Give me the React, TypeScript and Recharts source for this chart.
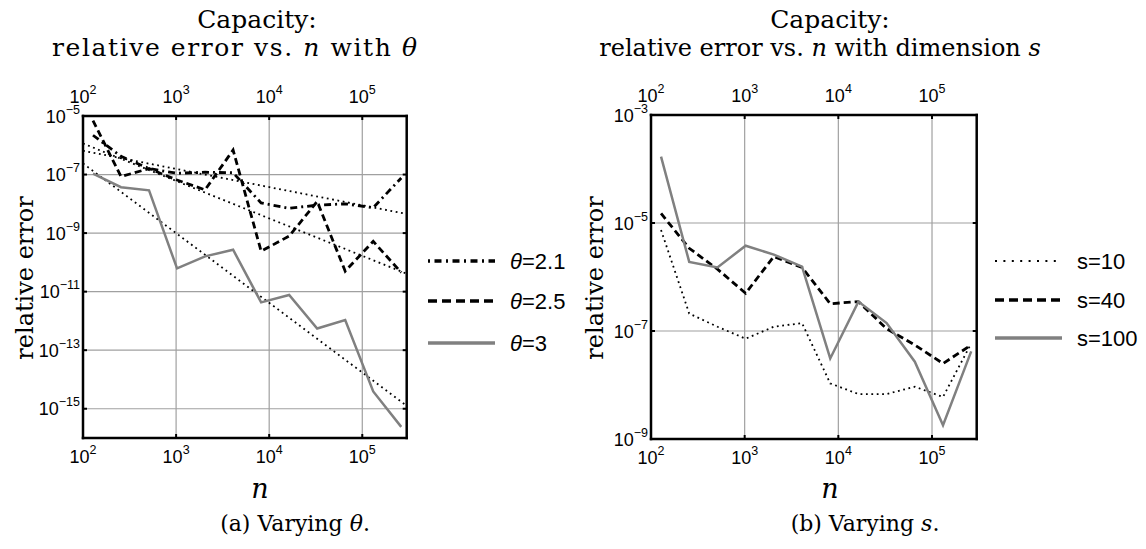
import React from 'react';
import { LineChart, Line, XAxis, YAxis, CartesianGrid } from 'recharts';

// sample sizes n = 2^7 .. 2^18
const nPoints = [128, 256, 512, 1024, 2048, 4096, 8192, 16384, 32768, 65536, 131072, 262144];
// reference (dotted) lines run across the whole x range
const nRefEnds = [100, 300000];
const xTicks = [100, 1000, 10000, 100000];

// (a) varying theta
const theta21 = [2.2e-6, 4.2e-7, 1.6e-7, 1.1e-7, 1.2e-7, 1.15e-7, 1.07e-8, 7e-9, 9e-9, 1e-8, 7.4e-9, 7.6e-8];
const theta25 = [7e-6, 8.5e-8, 1.6e-7, 6.5e-8, 3e-8, 6.9e-7, 2.4e-10, 7.9e-10, 1.2e-8, 5e-11, 5.2e-10, 4.5e-11];
const theta3 = [1.07e-7, 3.7e-8, 2.9e-8, 6.2e-11, 1.6e-10, 2.7e-10, 4.3e-12, 7.7e-12, 5.5e-13, 1.07e-12, 3.9e-15, 2.4e-16];
const ref21 = [6.5e-7, 4.5e-9];
const ref25 = [1.15e-6, 4.1e-11];
const ref3 = [2.4e-7, 1.26e-15];
const yTicksA = [1e-15, 1e-13, 1e-11, 1e-9, 1e-7, 1e-5];

// (b) varying dimension s
const s10 = [7.4e-6, 2.1e-7, 1.2e-7, 7.2e-8, 1.2e-7, 1.4e-7, 1.07e-8, 6.8e-9, 6.8e-9, 9.3e-9, 6e-9, 5.9e-8];
const s40 = [1.5e-5, 3.4e-6, 1.4e-6, 5e-7, 2.4e-6, 1.5e-6, 3.2e-7, 3.5e-7, 1.1e-7, 5.5e-8, 2.5e-8, 5.5e-8];
const s100 = [1.7e-4, 1.9e-6, 1.5e-6, 3.8e-6, 2.6e-6, 1.55e-6, 3.1e-8, 3.5e-7, 1.4e-7, 2.7e-8, 1.8e-9, 4.2e-8];
const yTicksB = [1e-9, 1e-7, 1e-5, 1e-3];

const SERIF = '"DejaVu Serif", "Liberation Serif", serif';
const SANS = '"Liberation Sans", Arial, sans-serif';
const GRAY = '#808080';

type Style = { stroke: string; width: number; dash?: string };
const DASHDOT: Style = { stroke: '#000', width: 2.8, dash: '7 4 2 4' };
const DASHED: Style = { stroke: '#000', width: 2.8, dash: '7 4' };
const SOLID: Style = { stroke: GRAY, width: 2.5 };
const DOTTED: Style = { stroke: '#000', width: 1.8, dash: '1.8 3.6' };

type Series = { key: string; label: string; sym: string; values: number[]; style: Style };

const seriesA: Series[] = [
  { key: 't21', label: '=2.1', sym: 'θ', values: theta21, style: DASHDOT },
  { key: 't25', label: '=2.5', sym: 'θ', values: theta25, style: DASHED },
  { key: 't3', label: '=3', sym: 'θ', values: theta3, style: SOLID },
];
const refsA = [
  { key: 'r21', values: ref21 },
  { key: 'r25', values: ref25 },
  { key: 'r3', values: ref3 },
];
const seriesB: Series[] = [
  { key: 's10', label: 's=10', sym: '', values: s10, style: DOTTED },
  { key: 's40', label: 's=40', sym: '', values: s40, style: DASHED },
  { key: 's100', label: 's=100', sym: '', values: s100, style: SOLID },
];

const TICK = 4;
const exp = (v: number) => {
  const e = Math.round(Math.log10(v));
  return e < 0 ? `\u2212${-e}` : `${e}`;
};

function Pow({ x, y, anchor, value }: { x: number; y: number; anchor: 'start' | 'middle' | 'end'; value: number }) {
  return (
    <text x={x} y={y} textAnchor={anchor} fontSize={18} fontFamily={SANS} fill="#000">
      <tspan>10</tspan>
      <tspan dy={-9} fontSize={12.5}>{exp(value)}</tspan>
    </text>
  );
}

const LeftTick = ({ x, y, payload }: any) => (
  <g>
    <line x1={x} x2={x + TICK} y1={y} y2={y} stroke="#000" strokeWidth={2} />
    <Pow x={x - 3} y={y + 6.5} anchor="end" value={payload.value} />
  </g>
);
const RightTick = ({ x, y }: any) => (
  <line x1={x - TICK} x2={x} y1={y} y2={y} stroke="#000" strokeWidth={2} />
);
const BottomTick = ({ x, y, payload }: any) => (
  <g>
    <line x1={x} x2={x} y1={y} y2={y - TICK} stroke="#000" strokeWidth={2} />
    <Pow x={x} y={y + 25} anchor="middle" value={payload.value} />
  </g>
);
const TopTick = ({ x, y, payload }: any) => (
  <g>
    <line x1={x} x2={x} y1={y} y2={y + TICK} stroke="#000" strokeWidth={2} />
    <Pow x={x} y={y - 13} anchor="middle" value={payload.value} />
  </g>
);

interface PanelProps {
  left: number;
  margin: { top: number; right: number; bottom: number; left: number };
  yDomain: [number, number];
  yTicks: number[];
  series: Series[];
  refs?: { key: string; values: number[] }[];
}

function LogPanel({ left, margin, yDomain, yTicks, series, refs = [] }: PanelProps) {
  const rows = nPoints.map((n, i) => {
    const row: Record<string, number> = { n };
    series.forEach(s => { row[s.key] = s.values[i]; });
    return row;
  });
  const refRows = nRefEnds.map((n, i) => {
    const row: Record<string, number> = { n };
    refs.forEach(r => { row[r.key] = r.values[i]; });
    return row;
  });
  const frame = { stroke: '#000', strokeWidth: 2.5, strokeLinecap: 'square' as const };
  const axisCommon = { tickSize: 0, tickMargin: 0, tickLine: false, axisLine: frame, interval: 0 as const };

  return (
    <div style={{ position: 'absolute', left, top: 0 }}>
      <LineChart width={573} height={549} data={rows} margin={margin}>
        <CartesianGrid xAxisId="b" yAxisId="l" stroke="#a0a0a0" strokeWidth={1.2} />
        <XAxis xAxisId="b" dataKey="n" type="number" scale="log" domain={[100, 300000]} allowDataOverflow
          ticks={xTicks} height={10} orientation="bottom" tick={<BottomTick />} {...axisCommon} />
        <XAxis xAxisId="t" dataKey="n" type="number" scale="log" domain={[100, 300000]} allowDataOverflow
          ticks={xTicks} height={10} orientation="top" tick={<TopTick />} {...axisCommon} />
        <YAxis yAxisId="l" type="number" scale="log" domain={yDomain} allowDataOverflow
          ticks={yTicks} width={10} orientation="left" tick={<LeftTick />} {...axisCommon} />
        <YAxis yAxisId="r" type="number" scale="log" domain={yDomain} allowDataOverflow
          ticks={yTicks} width={10} orientation="right" tick={<RightTick />} {...axisCommon} />
        {refs.map(r => (
          <Line key={r.key} data={refRows} dataKey={r.key} xAxisId="b" yAxisId="l" type="linear"
            stroke={DOTTED.stroke} strokeWidth={DOTTED.width} strokeDasharray={DOTTED.dash}
            dot={false} activeDot={false} isAnimationActive={false} />
        ))}
        {series.map(s => (
          <Line key={s.key} dataKey={s.key} xAxisId="b" yAxisId="l" type="linear"
            stroke={s.style.stroke} strokeWidth={s.style.width} strokeDasharray={s.style.dash}
            dot={false} activeDot={false} isAnimationActive={false} />
        ))}
      </LineChart>
    </div>
  );
}

function LegendBlock({ x, rows, series }: { x: number; rows: number[]; series: Series[] }) {
  return (
    <g>
      {series.map((s, i) => (
        <g key={s.key}>
          <line x1={x} x2={x + 67} y1={rows[i]} y2={rows[i]} stroke={s.style.stroke}
            strokeWidth={s.style === DOTTED ? 2 : 3.5}
            strokeDasharray={s.style === DOTTED ? '2 6.4' : s.style === DASHDOT ? '2 4.5 7 4.5' : s.style === DASHED ? '9 5' : undefined} />
          <text x={x + 82} y={rows[i] + 8} fontSize={22} fontFamily={SANS} fill="#000">
            {s.sym && <tspan fontStyle="italic">{s.sym}</tspan>}
            {s.label}
          </text>
        </g>
      ))}
    </g>
  );
}

function Labels() {
  const serif = { fontFamily: SERIF, fill: '#000' };
  return (
    <svg width={1146} height={549} style={{ position: 'absolute', left: 0, top: 0, pointerEvents: 'none' }}>
      {/* (a) */}
      <text x={257} y={28} textAnchor="middle" fontSize={25} {...serif}>Capacity:</text>
      <text x={52} y={56} fontSize={25} textLength={365} lengthAdjust="spacing" {...serif}>
        relative error vs. <tspan fontStyle="italic">n</tspan> with <tspan fontStyle="italic">θ</tspan>
      </text>
      <text transform="translate(33,278) rotate(-90)" textAnchor="middle" fontSize={24} {...serif}>relative error</text>
      <text x={260} y={498} textAnchor="middle" fontSize={27} fontStyle="italic" {...serif}>n</text>
      <text x={295} y={531} textAnchor="middle" fontSize={22} {...serif}>
        (a) Varying <tspan fontStyle="italic">θ</tspan>.
      </text>
      <LegendBlock x={428} rows={[261, 301, 343]} series={seriesA} />

      {/* (b) */}
      <text x={830} y={28} textAnchor="middle" fontSize={25} {...serif}>Capacity:</text>
      <text x={820} y={56} textAnchor="middle" fontSize={24} {...serif}>
        relative error vs. <tspan fontStyle="italic">n</tspan> with dimension <tspan fontStyle="italic">s</tspan>
      </text>
      <text transform="translate(603,278) rotate(-90)" textAnchor="middle" fontSize={24} {...serif}>relative error</text>
      <text x={830} y={498} textAnchor="middle" fontSize={27} fontStyle="italic" {...serif}>n</text>
      <text x={865} y={531} textAnchor="middle" fontSize={22} {...serif}>
        (b) Varying <tspan fontStyle="italic">s</tspan>.
      </text>
      <LegendBlock x={995} rows={[261, 300, 338]} series={seriesB} />
    </svg>
  );
}

export default function App() {
  return (
    <div style={{ position: 'absolute', left: 0, top: 0, width: 1146, height: 549, background: '#fff' }}>
      <LogPanel left={0} margin={{ top: 106, left: 73, right: 156.3, bottom: 101 }}
        yDomain={[1e-16, 1e-5]} yTicks={yTicksA} series={seriesA} refs={refsA} />
      <LogPanel left={573} margin={{ top: 105, left: 68, right: 159.3, bottom: 100 }}
        yDomain={[1e-9, 1e-3]} yTicks={yTicksB} series={seriesB} />
      <Labels />
    </div>
  );
}
